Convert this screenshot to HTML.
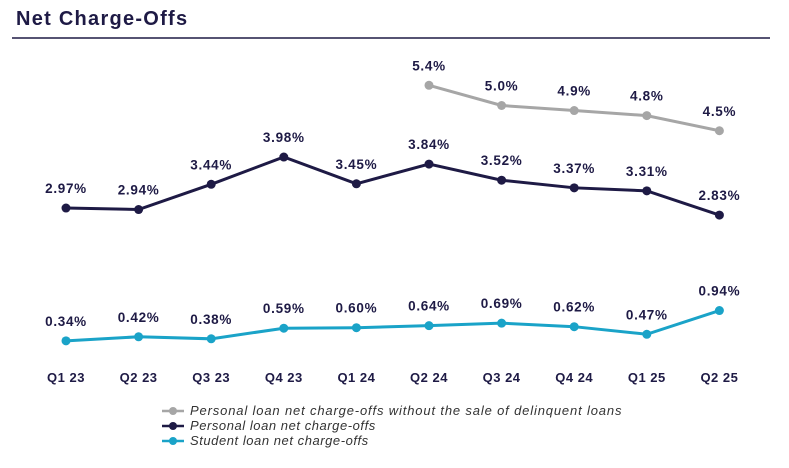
<!DOCTYPE html>
<html><head><meta charset="utf-8"><style>
body{margin:0;background:#fff;width:789px;height:463px;overflow:hidden;font-family:"Liberation Sans",sans-serif}
</style></head><body>
<svg width="789" height="463" id="c">
<text x="16" y="25" font-size="20" font-weight="bold" fill="#1e1a45" letter-spacing="0.9" textLength="172">Net Charge-Offs</text>
<line x1="12" y1="38" x2="770" y2="38" stroke="#1e1a45" stroke-width="1.5"/>
<g id="marks"></g>
<g font-size="13" font-style="italic" fill="#333" letter-spacing="0.55">
<g><line x1="162" y1="411" x2="184" y2="411" stroke="#a6a6a6" stroke-width="2.5"/><circle cx="173" cy="411" r="4" fill="#a6a6a6"/><text x="190" y="415" textLength="432">Personal loan net charge-offs without the sale of delinquent loans</text></g>
<g><line x1="162" y1="426" x2="184" y2="426" stroke="#1e1a45" stroke-width="2.5"/><circle cx="173" cy="426" r="4" fill="#1e1a45"/><text x="190" y="430">Personal loan net charge-offs</text></g>
<g><line x1="162" y1="441" x2="184" y2="441" stroke="#1aa3c8" stroke-width="2.5"/><circle cx="173" cy="441" r="4" fill="#1aa3c8"/><text x="190" y="445">Student loan net charge-offs</text></g>
</g>
</svg>
<script>
const categories=["Q1 23","Q2 23","Q3 23","Q4 23","Q1 24","Q2 24","Q3 24","Q4 24","Q1 25","Q2 25"];
const personalNoSale=[null,null,null,null,null,5.4,5.0,4.9,4.8,4.5];
const personalNoSaleLabels=["","","","","","5.4%","5.0%","4.9%","4.8%","4.5%"];
const personal=[2.97,2.94,3.44,3.98,3.45,3.84,3.52,3.37,3.31,2.83];
const personalLabels=["2.97%","2.94%","3.44%","3.98%","3.45%","3.84%","3.52%","3.37%","3.31%","2.83%"];
const student=[0.34,0.42,0.38,0.59,0.60,0.64,0.69,0.62,0.47,0.94];
const studentLabels=["0.34%","0.42%","0.38%","0.59%","0.60%","0.64%","0.69%","0.62%","0.47%","0.94%"];
const NS="http://www.w3.org/2000/svg";
const g=document.getElementById('marks');
function x(i){return 66+i*72.6;}
function y(v){return 358-v*50.5;}
function mk(t,a){const e=document.createElementNS(NS,t);for(const k in a)e.setAttribute(k,a[k]);g.appendChild(e);return e;}
categories.forEach((c,i)=>{const t=mk('text',{x:x(i),y:382,'text-anchor':'middle','font-size':13,'font-weight':'bold',fill:'#1e1a45','letter-spacing':0.5});t.textContent=c;

});
function series(vals,labels,color,name){
  const pts=[];vals.forEach((v,i)=>{if(v!=null)pts.push([x(i),y(v),labels[i]]);});
  const p=mk('polyline',{points:pts.map(q=>q[0]+','+q[1]).join(' '),fill:'none',stroke:color,'stroke-width':3});
  
  
  pts.forEach(q=>{const c=mk('circle',{cx:q[0],cy:q[1],r:4.5,fill:color});
    
    
    const t=mk('text',{x:q[0],y:q[1]-15,'text-anchor':'middle','font-size':13.5,'font-weight':'bold',fill:'#1e1a45','letter-spacing':0.7});t.textContent=q[2];
    
    });
}
series(personalNoSale,personalNoSaleLabels,'#a6a6a6','personal-no-sale');
series(personal,personalLabels,'#1e1a45','personal');
series(student,studentLabels,'#1aa3c8','student');
</script>
</body></html>
